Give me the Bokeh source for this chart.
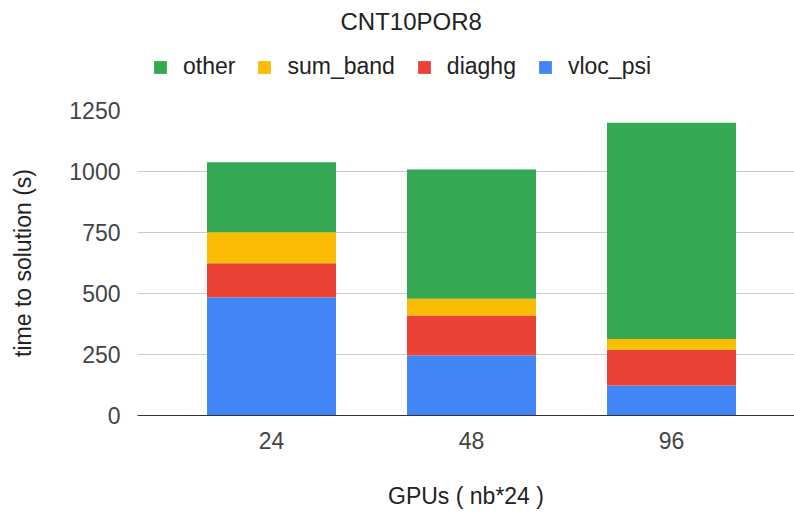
from bokeh.plotting import figure
from bokeh.layouts import column
from bokeh.models import Range1d, FixedTicker, Legend, LegendItem, ColumnDataSource
from bokeh.embed import file_html
from bokeh.resources import INLINE

# ---- data ----
gpus = ["24", "48", "96"]
vloc_psi = [485, 246, 123]
diaghg = [139, 164, 146]
sum_band = [127, 68, 45]
other = [287, 530, 886]
series = ["vloc_psi", "diaghg", "sum_band", "other"]
colors = ["#4285F4", "#EA4335", "#FBBC04", "#34A853"]
yticks = [0, 250, 500, 750, 1000, 1250]

FONT = "Liberation Sans"
FS = "23px"

xpos = list(range(len(gpus)))
source = ColumnDataSource(dict(x=xpos, vloc_psi=vloc_psi, diaghg=diaghg,
                               sum_band=sum_band, other=other))

# ---- header: title + legend ----
h = figure(width=794, height=95, output_backend="svg", toolbar_location=None,
           x_range=Range1d(-0.67, 2.615), y_range=Range1d(0, 1250),
           x_axis_type=None, y_axis_type=None,
           min_border_left=137, min_border_right=0, min_border_top=4,
           min_border_bottom=0, title="CNT10POR8")
h.outline_line_color = None
h.xgrid.visible = False
h.ygrid.visible = False
h.title.align = "left"
h.title.text_font = FONT
h.title.text_font_size = "24px"
h.title.text_font_style = "normal"
h.title.text_color = "#222222"
h.title.offset = 203

hr = h.vbar_stack(series, x="x", width=0.645, color=colors, line_color=None,
                  source=source)
for r in hr:
    r.visible = False
items = [LegendItem(label=s, renderers=[r]) for s, r in zip(series, hr)][::-1]
legend = Legend(items=items, orientation="horizontal", location=(15, 15),
                glyph_width=16, glyph_height=16, label_standoff=15, spacing=21,
                padding=0, margin=0, border_line_color=None,
                background_fill_alpha=0, inactive_fill_alpha=0,
                label_text_font=FONT, label_text_font_size=FS,
                label_text_color="#222222")
h.add_layout(legend, "center")

# ---- main chart ----
p = figure(width=794, height=417, output_backend="svg", toolbar_location=None,
           x_range=Range1d(-0.67, 2.615), y_range=Range1d(0, 1250),
           min_border_left=137, min_border_right=0, min_border_top=15,
           min_border_bottom=97, title=None)

p.vbar_stack(series, x="x", width=0.645, color=colors, line_color=None,
             source=source)

p.outline_line_color = None
p.xgrid.grid_line_color = None
p.ygrid.grid_line_color = "#cccccc"
p.ygrid.ticker = FixedTicker(ticks=yticks)

p.xaxis.ticker = FixedTicker(ticks=xpos)
p.xaxis.major_label_overrides = {i: g for i, g in zip(xpos, gpus)}
p.xaxis.axis_line_color = "#333333"
p.xaxis.major_tick_line_color = None
p.xaxis.minor_tick_line_color = None
p.xaxis.major_label_standoff = 10
p.xaxis.axis_label = "GPUs ( nb*24 )"
p.xaxis.axis_label_standoff = 31

p.yaxis.ticker = FixedTicker(ticks=yticks)
p.yaxis.axis_line_color = None
p.yaxis.major_tick_line_color = None
p.yaxis.minor_tick_line_color = None
p.yaxis.major_label_standoff = 11
p.yaxis.axis_label = "time to solution (s)"
p.yaxis.axis_label_standoff = 30

for ax in (p.xaxis, p.yaxis):
    ax.major_label_text_font = FONT
    ax.major_label_text_font_size = FS
    ax.major_label_text_color = "#444444"
    ax.axis_label_text_font = FONT
    ax.axis_label_text_font_size = FS
    ax.axis_label_text_font_style = "normal"
    ax.axis_label_text_color = "#222222"

layout = column(h, p, spacing=0)
open("out.html", "w").write(file_html(layout, INLINE))
